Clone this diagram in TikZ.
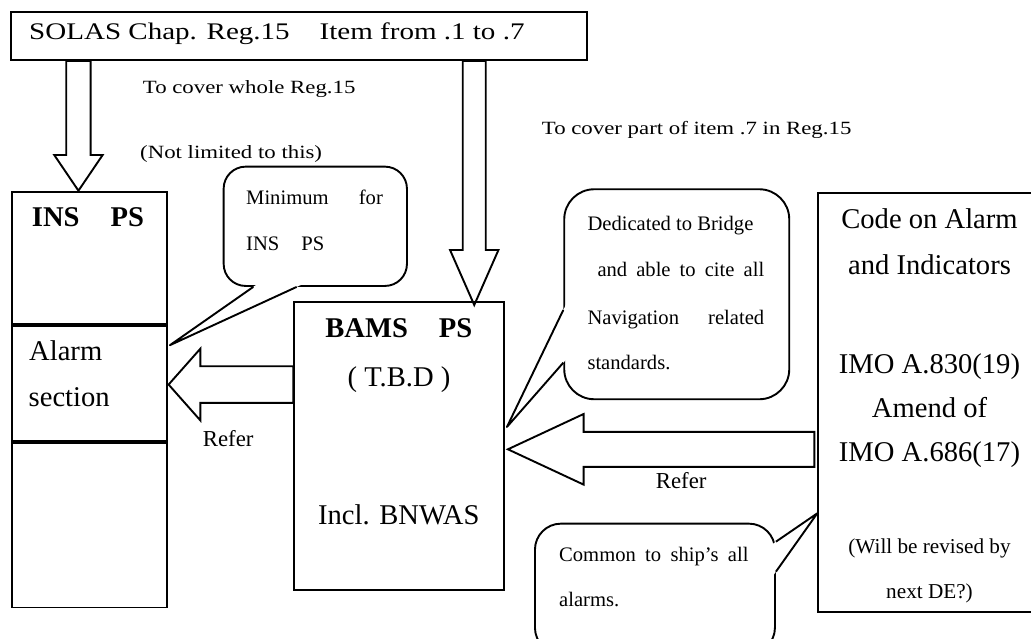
\documentclass[tikz,border=0pt]{standalone}
\usepackage{fontspec}
\setmainfont{Liberation Serif}
\newfontfamily\widerm{Liberation Serif}[FakeStretch=1.22]
\usetikzlibrary{calc}

\newcommand*{\boxlw}{1.9pt}
\newcommand*{\bigfont}{\fontsize{28.6}{34}\selectfont}
\newcommand*{\midfont}{\fontsize{22.8}{27}\selectfont}
\newcommand*{\smallfont}{\fontsize{20.6}{25}\selectfont}
\newcommand*{\notefont}{\fontsize{21.2}{25}\selectfont}
\newcommand*{\widefont}{\widerm\fontsize{18.7}{22}\selectfont}
\newcommand*{\headfont}{\widerm\fontsize{23.8}{28}\selectfont}

% hollow block arrow: tail, tip, half shaft, half head, head length
\newcommand*{\hollowarrow}[5]{%
	\path let \p1 = ($(#2)-(#1)$) in
		\pgfextra{%
			\pgfmathsetmacro{\arrang}{atan2(\y1,\x1)}%
			\pgfmathsetmacro{\arrlen}{veclen(\x1,\y1)}%
			\global\let\arrang\arrang
			\global\let\arrlen\arrlen};
	\draw[blockarrow,shift={(#1)},rotate=\arrang]
		(0,-#3) -- (\arrlen-#5,-#3) -- (\arrlen-#5,-#4) -- (\arrlen,0)
		-- (\arrlen-#5,#4) -- (\arrlen-#5,#3) -- (0,#3) -- cycle;%
}

% speech bubble tail: base point, tip, base point
\newcommand*{\bubbletail}[3]{%
	\fill[white] ($(#2)!1.08!(#1)$) -- (#2) -- ($(#2)!1.08!(#3)$) -- cycle;
	\draw[tailline] (#1) -- (#2) -- (#3);%
}

\begin{document}
\begin{tikzpicture}
[
	x=1pt,y=-1pt,
	plainbox/.style={draw,line width=\boxlw,anchor=north west,inner sep=0pt},
	bubble/.style={plainbox,rounded corners=#1},
	bubble/.default=26pt,
	blockarrow/.style={draw,line width=\boxlw,line join=miter},
	tailline/.style={draw,line width=\boxlw,line join=round},
	txt/.style={anchor=base west,inner sep=0pt},
	ctxt/.style={anchor=base,inner sep=0pt}
]

	\useasboundingbox (0,0) rectangle (1031,639);

	% boxes
	\node[plainbox,minimum width=576pt,minimum height=48pt] (solas) at (10,11) {};
	\node[plainbox,minimum width=154.7pt,minimum height=132pt] (insps) at (11,190.7) {};
	\node[plainbox,minimum width=154.7pt,minimum height=115.6pt] (alarmsec) at (insps.south west) {};
	\node[plainbox,minimum width=154.7pt,minimum height=164.4pt] (insrest) at (alarmsec.south west) {};
	\node[plainbox,minimum width=210pt,minimum height=288.3pt] (bams) at (293.3,300.7) {};
	\node[plainbox,minimum width=224pt,minimum height=419pt] (code) at (817.3,191.7) {};

	% bubbles
	\node[bubble=22pt,minimum width=183.3pt,minimum height=119.3pt] (minbub) at (222.7,165.7) {};
	\node[bubble=30pt,minimum width=225pt,minimum height=210pt] (navbub) at (563.3,188.3) {};
	\node[bubble=26pt,minimum width=240pt,minimum height=130pt] (combub) at (534,522.7) {};

	\coordinate (minptr) at ($(alarmsec.north east)+(2.3,20.6)$);
	\coordinate (minbasea) at ($(minbub.south west)+(30.6,0)$);
	\coordinate (minbaseb) at ($(minbub.south west)+(74,0)$);
	\bubbletail{minbasea}{minptr}{minbaseb}

	\coordinate (navptr) at ($(bams.north east)+(1.7,126.3)$);
	\coordinate (navbasea) at ($(navbub.north west)+(0,121.7)$);
	\coordinate (navbaseb) at ($(navbub.north west)+(0,174.4)$);
	\bubbletail{navbasea}{navptr}{navbaseb}

	\coordinate (comptr) at ($(code.north west)+(0,321.6)$);
	\coordinate (combasea) at ($(combub.north east)+(0,19)$);
	\coordinate (combaseb) at ($(combub.north east)+(0,49)$);
	\bubbletail{combasea}{comptr}{combaseb}

	% block arrows
	\coordinate (insTip) at ($(insps.north)+(-10.85,0)$);
	\coordinate (insTail) at (solas.south -| insTip);
	\hollowarrow{insTail}{insTip}{12.2}{24.2}{35.7}

	\coordinate (bamsTip) at ($(bams.north)+(75,4.3)$);
	\coordinate (bamsTail) at (solas.south -| bamsTip);
	\hollowarrow{bamsTail}{bamsTip}{11.5}{24.2}{55}

	\coordinate (alarmTip) at ($(alarmsec.east)+(1,1.2)$);
	\coordinate (alarmTail) at (bams.west |- alarmTip);
	\hollowarrow{alarmTail}{alarmTip}{18.3}{35.8}{31.7}

	\coordinate (codeTip) at ($(bams.east)+(2.7,3.5)$);
	\coordinate (codeTail) at ($(code.west |- codeTip)+(-3,0)$);
	\hollowarrow{codeTail}{codeTip}{17.5}{35.3}{75.7}

	% texts
	\node[txt,font=\headfont] (solastxt) at (29,40) {SOLAS Chap. Reg.15\hspace{30pt}Item from .1 to .7};
	\node[txt,font=\widefont] (wholetxt) at (142.7,94) {To cover whole Reg.15};
	\node[txt,font=\widefont] (notlimtxt) at (140,159) {(Not limited to this)};
	\node[txt,font=\widefont] (parttxt) at (541.7,135) {To cover part of item .7 in Reg.15};

	\node[ctxt,font=\bigfont\bfseries] (instxt) at (88,226.7) {INS\hspace{31pt}PS};
	\node[txt,font=\bigfont] (alarmtxt) at (29,360) {Alarm};
	\node[txt,font=\bigfont] (sectiontxt) at (28.5,406.7) {section};

	\node[ctxt,font=\bigfont\bfseries] (bamstxt) at (398.8,337.3) {BAMS\hspace{31pt}PS};
	\node[ctxt,font=\bigfont] (tbdtxt) at (399,386.7) {( T.B.D )};
	\node[ctxt,font=\bigfont] (bnwastxt) at (398.8,524) {Incl. BNWAS};

	\node[txt,font=\midfont] (refera) at (202.7,446.7) {Refer};
	\node[txt,font=\midfont] (referb) at (655.7,488.3) {Refer};

	\node[txt,font=\smallfont] (mina) at (246,204.3) {\makebox[136.7pt][s]{Minimum for}};
	\node[txt,font=\smallfont] (minb) at (246,250.7) {INS\hspace{22pt}PS};

	\node[txt,font=\smallfont] (nava) at (587.3,230.7) {Dedicated to Bridge};
	\node[txt,font=\smallfont] (navb) at (597.3,276.7) {\makebox[166.7pt][s]{and able to cite all}};
	\node[txt,font=\smallfont] (navc) at (587.3,324) {\makebox[176.7pt][s]{Navigation related}};
	\node[txt,font=\smallfont] (navd) at (587.3,369.3) {standards.};

	\node[txt,font=\smallfont] (coma) at (559,561.7) {\makebox[189.3pt][s]{Common to ship’s all}};
	\node[txt,font=\smallfont] (comb) at (559,606.7) {alarms.};

	\node[ctxt,font=\bigfont] (codea) at (929.5,228.3) {Code on Alarm};
	\node[ctxt,font=\bigfont] (codeb) at (929.5,275) {and Indicators};
	\node[ctxt,font=\bigfont] (codec) at (929.5,373.3) {IMO A.830(19)};
	\node[ctxt,font=\bigfont] (coded) at (929.5,417.5) {Amend of};
	\node[ctxt,font=\bigfont] (codee) at (929.5,461.7) {IMO A.686(17)};
	\node[ctxt,font=\notefont] (codef) at (929.5,553.3) {(Will be revised by};
	\node[ctxt,font=\notefont] (codeg) at (929.5,598.3) {next DE?)};

\end{tikzpicture}
\end{document}
